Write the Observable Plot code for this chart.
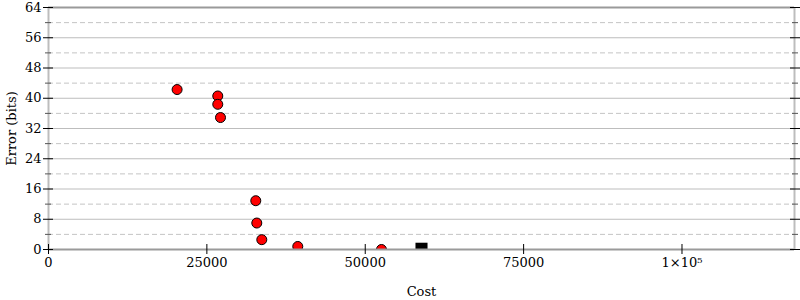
<!DOCTYPE html>
<html>
<head>
<meta charset="utf-8">
<script src="https://cdn.jsdelivr.net/npm/d3@7"></script>
<script src="https://cdn.jsdelivr.net/npm/@observablehq/plot@0.6"></script>
<style>
  html, body { margin: 0; padding: 0; background: #fff; }
</style>
</head>
<body>
<div id="chart"></div>
<script>
// Red points: alternatives (cost, error in bits)
const costs  = [20300, 26720, 26720, 27150, 32720, 32880, 33670, 39350, 52560];
const errors = [42.3, 40.6, 38.4, 34.9, 12.9, 7.0, 2.6, 0.8, 0.0];
// Black square: initial program
const startCost = [58880];
const startError = [0.2];

const xTicks = [0, 25000, 50000, 75000, 100000];
const xTickLabels = ["0", "25000", "50000", "75000", "1×10⁵"];
const yMajor = [0, 8, 16, 24, 32, 40, 48, 56, 64];
const yMinor = [4, 12, 20, 28, 36, 44, 52, 60];
const xDomain = [0, 117760];
const yDomain = [0, 64];

const pts = costs.map((c, i) => ({cost: c, error: errors[i]}));
const start = startCost.map((c, i) => ({cost: c, error: startError[i]}));
const labelOf = new Map(xTicks.map((t, i) => [t, xTickLabels[i]]));

const font = "DejaVu Serif";
const chart = Plot.plot({
  width: 800,
  height: 300,
  marginLeft: 48,
  marginRight: 6,
  marginTop: 7,
  marginBottom: 51,
  style: {fontFamily: font, fontSize: "13px", color: "#000", background: "#fff"},
  x: {domain: xDomain},
  y: {domain: yDomain},
  marks: [
    // minor dashed grid
    Plot.ruleY(yMinor, {stroke: "#c4c4c4", strokeWidth: 1, strokeDasharray: "5,3"}),
    // major solid grid
    Plot.ruleY(yMajor.filter(d => d > 0 && d < 64), {stroke: "#bdbdbd", strokeWidth: 1}),
    // data
    Plot.dot(pts, {x: "cost", y: "error", r: 5, fill: "#ff0000", stroke: "#000", strokeWidth: 1, clip: "frame"}),
    Plot.dot(start, {x: "cost", y: "error", symbol: "square", r: 6.8, fill: "#000", stroke: "none", clip: "frame"}),
    // frame: top/bottom darker, sides lighter
    Plot.ruleY([yDomain[1], yDomain[0]], {stroke: "#9a9a9a", strokeWidth: 2}),
    Plot.ruleX([xDomain[0], xDomain[1]], {stroke: "#bdbdbd", strokeWidth: 2}),
    // y major ticks crossing the axes (left and right)
    Plot.axisY(yMajor, {anchor: "left", tickSize: 10, dx: 5, fill: "none", stroke: "#000", label: null}),
    Plot.axisY(yMajor, {anchor: "right", tickSize: 10, dx: -5, fill: "none", stroke: "#000", label: null}),
    // y minor ticks
    Plot.axisY(yMinor, {anchor: "left", tickSize: 6, dx: 3, fill: "none", stroke: "#555", label: null}),
    Plot.axisY(yMinor, {anchor: "right", tickSize: 6, dx: -3, fill: "none", stroke: "#555", label: null}),
    // y tick labels and axis label
    Plot.axisY(yMajor, {anchor: "left", tickSize: 0, tickPadding: 7, label: "Error (bits)", labelAnchor: "center", labelArrow: "none", labelOffset: 42, fontSize: 13}),
    // x ticks crossing the axis
    Plot.axisX(xTicks, {anchor: "bottom", tickSize: 10, dy: -5, fill: "none", stroke: "#000", label: null}),
    // x tick labels and label
    Plot.axisX(xTicks, {anchor: "bottom", tickSize: 0, tickPadding: 8, tickFormat: d => labelOf.get(d), label: "Cost", labelAnchor: "center", labelArrow: "none", labelOffset: 46, fontSize: 13})
  ]
});
document.getElementById("chart").appendChild(chart);
</script>
</body>
</html>
